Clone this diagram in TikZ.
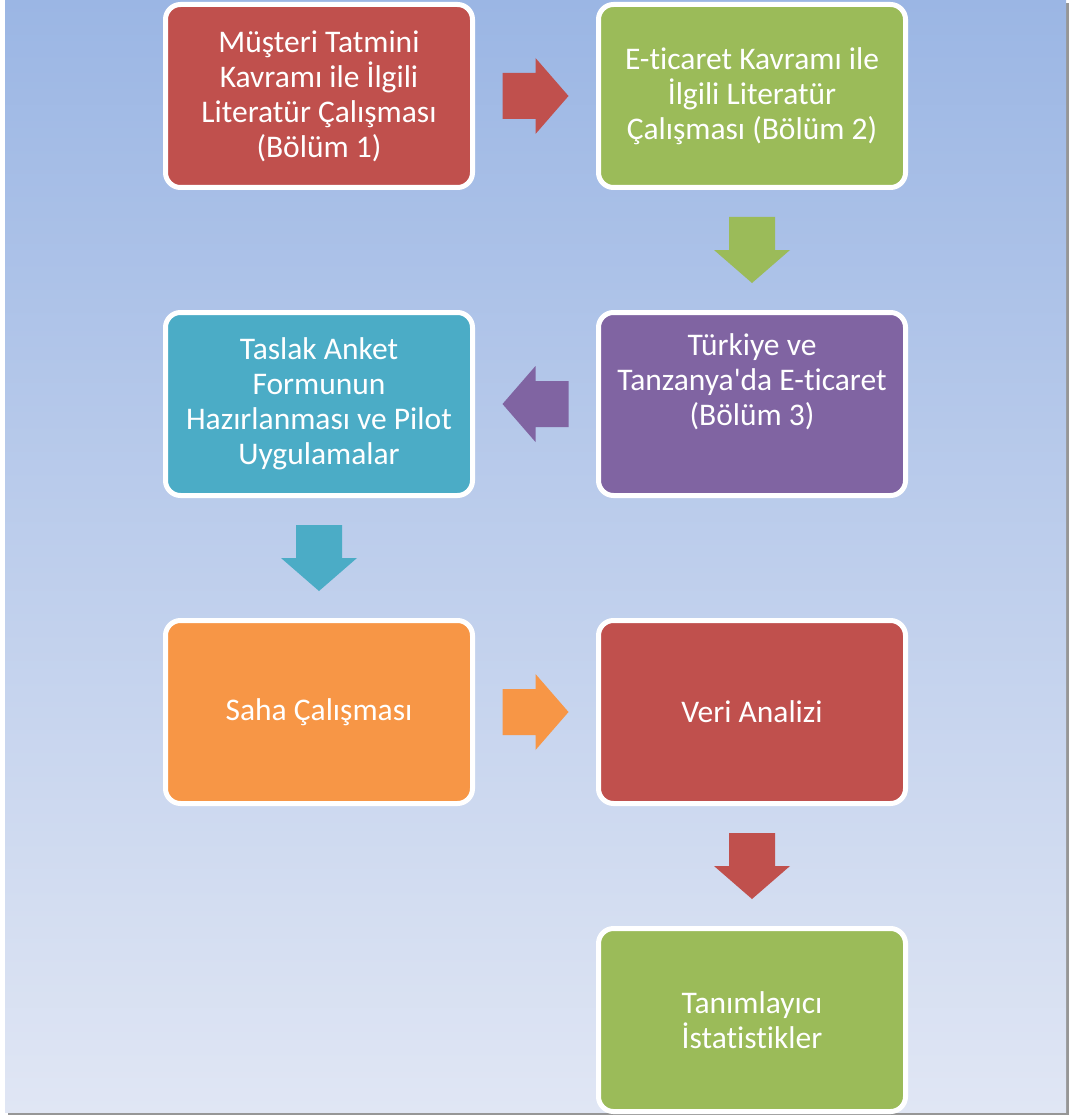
\documentclass[tikz,border=0pt]{standalone}
\usepackage{fontspec}
\setmainfont{Carlito}[Ligatures={TeXOff,NoCommon}]
\definecolor{tzRed}{RGB}{192, 80, 77}
\definecolor{tzGreen}{RGB}{155, 187, 89}
\definecolor{tzPurple}{RGB}{128, 100, 162}
\definecolor{tzTeal}{RGB}{75, 172, 198}
\definecolor{tzOrange}{RGB}{247, 150, 70}
\definecolor{tzSkyTop}{RGB}{155, 182, 228}
\definecolor{tzSkyBottom}{RGB}{224, 230, 244}
\definecolor{tzShadow}{RGB}{150, 150, 150}
\usetikzlibrary{calc}
\tikzset{
  stagebox/.style={rectangle, rounded corners=15pt, draw=white, line width=5pt, fill=#1, text=white, minimum width=307pt, minimum height=183pt, inner sep=0pt, align=center, font=\fontsize{31.5}{35}\selectfont},
  stagebox/.default=tzRed,
  pics/blockarrow/.style={code={
    \fill[#1] (-33,-23) -- (0,-23) -- (0,-38) -- (33,0) -- (0,38) -- (0,23) -- (-33,23) -- cycle;
  }},
}

\begin{document}
\begin{tikzpicture}[x=1pt, y=-1pt]
  \useasboundingbox (0,0) rectangle (1071,1115);
  % page background
  \fill[tzShadow] (8,3) rectangle (1069,1115);
  \shade[top color=tzSkyTop, bottom color=tzSkyBottom] (5,0) rectangle (1066,1112);

  \node[stagebox=tzRed] (lit1) at (319, 96) {M\"u\c{s}teri Tatmini\\Kavram\i{} ile \.{I}lgili\\Literat\"ur \c{C}al\i\c{s}mas\i\\(B\"ol\"um 1)};
  \node[stagebox=tzGreen] (lit2) at (752, 96) {E-ticaret Kavram\i{} ile\\\.{I}lgili Literat\"ur\\\c{C}al\i\c{s}mas\i{} (B\"ol\"um 2)};
  \node[stagebox=tzPurple] (trtz) at (752, 404) {T\"urkiye ve\\Tanzanya'da E-ticaret\\(B\"ol\"um 3)\\[13pt]\mbox{}};
  \node[stagebox=tzTeal] (anket) at (319, 404) {Taslak Anket\\Formunun\\Haz\i rlanmas\i{} ve Pilot\\Uygulamalar};
  \node[stagebox=tzOrange] (saha) at (319, 712) {Saha \c{C}al\i\c{s}mas\i};
  \node[stagebox=tzRed] (veri) at (752, 712) {Veri Analizi};
  \node[stagebox=tzGreen] (tanim) at (752, 1020) {Tan\i mlay\i c\i\\\.{I}statistikler};

  % block arrows between the stages
  \pic at ($(lit1.east)!0.5!(lit2.west)$) {blockarrow=tzRed};
  \pic[rotate=-90] at ($(lit2.south)!0.5!(trtz.north)$) {blockarrow=tzGreen};
  \pic[rotate=180] at ($(trtz.west)!0.5!(anket.east)$) {blockarrow=tzPurple};
  \pic[rotate=-90] at ($(anket.south)!0.5!(saha.north)$) {blockarrow=tzTeal};
  \pic at ($(saha.east)!0.5!(veri.west)$) {blockarrow=tzOrange};
  \pic[rotate=-90] at ($(veri.south)!0.5!(tanim.north)$) {blockarrow=tzRed};
\end{tikzpicture}
\end{document}
